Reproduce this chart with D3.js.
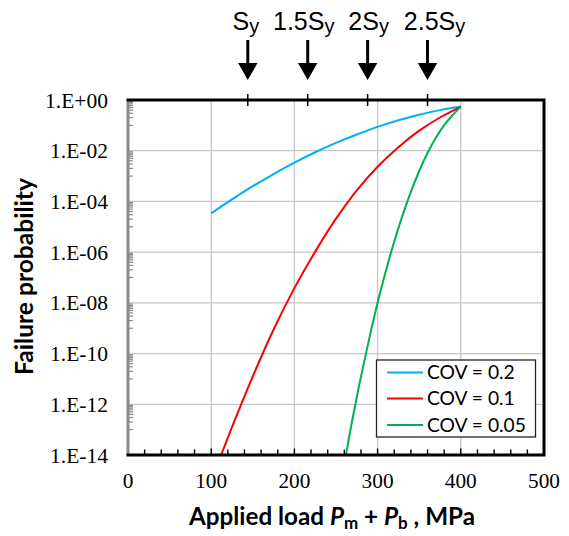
<!DOCTYPE html>
<html><head><meta charset="utf-8">
<script src="https://cdn.jsdelivr.net/npm/d3@7"></script>
<style>body{margin:0;background:#fff;} svg{display:block}</style>
</head><body>
<svg id="chart" width="569" height="536"></svg>
<script>
// ---- data ----
const seriesNames = ["COV = 0.2", "COV = 0.1", "COV = 0.05"];
const seriesColors = ["#00B0F0", "#FF0000", "#00B050"];
// applied load (MPa) and log10(failure probability)
const loadsCov20 = [100, 125, 150, 175, 200, 225, 250, 275, 300, 325, 350, 375, 400];
const logPCov20  = [-4.47, -3.92, -3.40, -2.92, -2.47, -2.06, -1.69, -1.36, -1.06, -0.80, -0.58, -0.40, -0.26];
const loadsCov10 = [112, 125, 150, 175, 200, 225, 250, 275, 300, 325, 350, 375, 400];
const logPCov10  = [-14.0, -12.9, -10.9, -9.05, -7.42, -5.98, -4.68, -3.56, -2.63, -1.86, -1.21, -0.69, -0.27];
const loadsCov05 = [262, 270, 280, 290, 300, 310, 320, 330, 340, 350, 360, 370, 380, 390, 400];
const logPCov05  = [-14.0, -12.55, -10.91, -9.40, -8.00, -6.73, -5.58, -4.55, -3.62, -2.80, -2.09, -1.49, -0.99, -0.60, -0.27];
const xTickValues = [0, 100, 200, 300, 400, 500];
const yTickValues = [1, 1e-2, 1e-4, 1e-6, 1e-8, 1e-10, 1e-12, 1e-14];
const yTickLabels = ["1.E+00", "1.E-02", "1.E-04", "1.E-06", "1.E-08", "1.E-10", "1.E-12", "1.E-14"];
const yieldStress = 144; // S_y, MPa
const syMultiples = [1, 1.5, 2, 2.5];
const syPrefixes = ["", "1.5", "2", "2.5"];

const series = [
  {name: seriesNames[0], color: seriesColors[0], x: loadsCov20, y: logPCov20},
  {name: seriesNames[1], color: seriesColors[1], x: loadsCov10, y: logPCov10},
  {name: seriesNames[2], color: seriesColors[2], x: loadsCov05, y: logPCov05}
];

// ---- layout ----
const svg = d3.select("#chart");
const L = 128, R = 544, T = 100, B = 455;
const x = d3.scaleLinear().domain([0, 500]).range([L, R]);
const y = d3.scaleLog().domain([1e-14, 1]).range([B, T]);

const serif = "'Liberation Serif','Times New Roman',serif";
const sans = "'Liberation Sans',Arial,sans-serif";
const cal = "Lato,'Open Sans',sans-serif";

function fit(sel, target) {
  const w = sel.node().getComputedTextLength();
  const fs = parseFloat(sel.attr("font-size"));
  sel.attr("font-size", fs * target / w);
  return fs * target / w;
}

// gridlines
const grid = svg.append("g").attr("stroke", "#c6c6c6").attr("stroke-width", 1.3);
grid.selectAll("line.v").data(xTickValues.filter(d => d > 0 && d < 500)).join("line")
  .attr("x1", d => x(d)).attr("x2", d => x(d)).attr("y1", T).attr("y2", B);
grid.selectAll("line.h").data(yTickValues.filter(d => d < 1 && d > 1e-14)).join("line")
  .attr("x1", L).attr("x2", R).attr("y1", d => y(d)).attr("y2", d => y(d));

// left (gray) axis line with log minor ticks
svg.append("line").attr("x1", L).attr("x2", L).attr("y1", T).attr("y2", B)
  .attr("stroke", "#8a8a8a").attr("stroke-width", 3);
const minorY = [];
yTickValues.slice(0, -1).forEach(v => { for (let m = 1; m <= 9; m++) minorY.push(v / 100 * 10 * m); });
svg.append("g").selectAll("line").data(minorY).join("line")
  .attr("x1", L).attr("x2", L + 5).attr("y1", d => y(d)).attr("y2", d => y(d))
  .attr("stroke", "#8a8a8a").attr("stroke-width", 1.2);

// curves
svg.append("clipPath").attr("id", "clip").append("rect")
  .attr("x", L).attr("y", T).attr("width", R - L).attr("height", B - T);
const line = d3.line().x(d => x(d[0])).y(d => y(Math.pow(10, d[1]))).curve(d3.curveCatmullRom.alpha(0.5));
svg.append("g").attr("clip-path", "url(#clip)").selectAll("path").data(series).join("path")
  .attr("d", s => line(s.x.map((v, i) => [v, s.y[i]])))
  .attr("fill", "none").attr("stroke", s => s.color).attr("stroke-width", 2);

// frame (top, right, bottom black)
const frame = svg.append("g").attr("stroke", "#000").attr("stroke-width", 3).attr("fill", "none");
frame.append("path").attr("d", `M${L - 1.5},${T} H${R} V${B} H${L - 1.5}`);

// bottom axis ticks (inward) and labels
const xMinor = d3.range(20, 500, 20);
svg.append("g").selectAll("line").data(xMinor).join("line")
  .attr("x1", d => x(d)).attr("x2", d => x(d)).attr("y1", B).attr("y2", d => d % 100 === 0 ? B - 6.5 : B - 5.5)
  .attr("stroke", "#000").attr("stroke-width", 1.4);
svg.append("g").selectAll("text").data(xTickValues).join("text")
  .attr("x", d => x(d)).attr("y", 488).attr("text-anchor", "middle")
  .attr("font-family", serif).attr("font-size", 21.3).attr("fill", "#000").text(d => d);

// y labels
svg.append("g").selectAll("text").data(yTickValues).join("text")
  .attr("x", 108).attr("y", d => y(d)).attr("dy", "0.35em").attr("text-anchor", "end")
  .attr("font-family", serif).attr("font-size", 21.5).attr("fill", "#000")
  .text((d, i) => yTickLabels[i]);

// top S_y ticks, arrows, labels
const syDx = [-2, -4, 1, 7];
const topG = svg.append("g");
syMultiples.forEach((m, i) => {
  const px = x(yieldStress * m);
  topG.append("line").attr("x1", px).attr("x2", px).attr("y1", T - 6).attr("y2", T + 6)
    .attr("stroke", "#000").attr("stroke-width", 1.5);
  topG.append("line").attr("x1", px).attr("x2", px).attr("y1", 40).attr("y2", 64)
    .attr("stroke", "#000").attr("stroke-width", 3);
  topG.append("path").attr("d", `M${px - 9.7},63 L${px + 9.7},63 L${px},80 Z`).attr("fill", "#000");
  const t = topG.append("text").attr("x", px + syDx[i]).attr("y", 30).attr("text-anchor", "middle")
    .attr("font-family", sans).attr("font-size", 25).attr("fill", "#000");
  t.append("tspan").text(syPrefixes[i] + "S");
  t.append("tspan").attr("font-size", 20).attr("dy", 3).text("y");
});

// axis titles
const xt = svg.append("text").attr("x", 332).attr("y", 525).attr("text-anchor", "middle")
  .attr("font-family", cal).attr("font-weight", "bold").attr("font-size", 22).attr("fill", "#000");
xt.append("tspan").text("Applied load ");
xt.append("tspan").attr("font-style", "italic").text("P");
xt.append("tspan").attr("font-size", "70%").attr("dy", 4).text("m");
xt.append("tspan").attr("dy", -4).text(" + ");
xt.append("tspan").attr("font-style", "italic").text("P");
xt.append("tspan").attr("font-size", "70%").attr("dy", 4).text("b");
xt.append("tspan").attr("dy", -4).text(" , MPa");
fit(xt, 286);

const yt = svg.append("text").attr("transform", "translate(33,276.5) rotate(-90)").attr("text-anchor", "middle")
  .attr("font-family", cal).attr("font-weight", "bold").attr("font-size", 22).attr("fill", "#000")
  .text("Failure probability");
fit(yt, 197);

// legend
const lg = svg.append("g");
lg.append("rect").attr("x", 376.5).attr("y", 360).attr("width", 159).attr("height", 77)
  .attr("fill", "#fff").attr("stroke", "#222").attr("stroke-width", 1.3);
const legY = [372.5, 398.5, 425];
const items = lg.selectAll("g").data(series).join("g");
items.append("line").attr("x1", 387).attr("x2", 423).attr("y1", (d, i) => legY[i]).attr("y2", (d, i) => legY[i])
  .attr("stroke", d => d.color).attr("stroke-width", 2);
const legTexts = items.append("text").attr("x", 427).attr("y", (d, i) => legY[i]).attr("dy", "0.35em")
  .attr("font-family", cal).attr("font-size", 18).attr("fill", "#000").text(d => d.name);
const fsL = fit(d3.select(legTexts.nodes()[2]), 99);
legTexts.attr("font-size", fsL);
</script>
</body></html>
